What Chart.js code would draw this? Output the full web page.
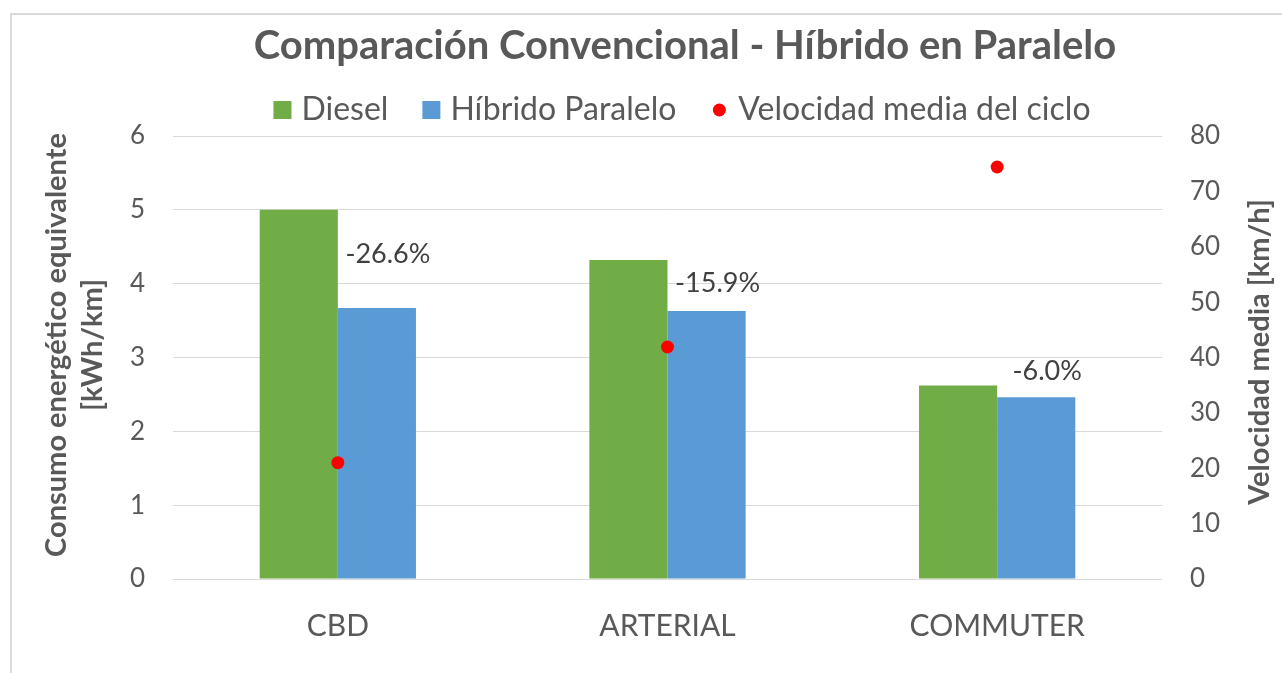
<!DOCTYPE html>
<html>
<head>
<meta charset="utf-8">
<script src="https://cdn.jsdelivr.net/npm/chart.js@4.4.0/dist/chart.umd.min.js"></script>
<style>
  body { margin: 0; background: #fff; }
  #wrap { position: relative; width: 1282px; height: 673px; overflow: hidden; }
  #marco { position: absolute; left: 10px; top: 13px; width: 1400px; height: 800px;
           border-left: 2px solid #d9d9d9; border-top: 2px solid #d9d9d9; }
  canvas { position: absolute; left: 0; top: 0; }
</style>
</head>
<body>
<div id="wrap">
  <div id="marco"></div>
  <canvas id="grafico" width="1282" height="673"></canvas>
</div>
<script>
const tituloGrafico = 'Comparación Convencional - Híbrido en Paralelo';
const categorias = ['CBD', 'ARTERIAL', 'COMMUTER'];
const consumoDiesel = [5.0, 4.32, 2.62];
const consumoHibrido = [3.67, 3.63, 2.46];
const velocidadMedia = [21.0, 41.9, 74.4];
const etiquetasAhorro = ['-26.6%', '-15.9%', '-6.0%'];
// altura de cada etiqueta, en kWh/km (eje izquierdo)
const alturaEtiquetas = [4.40, 4.0, 2.815];
const tituloEjeIzq = ['Consumo energético equivalente', '[kWh/km]'];
const tituloEjeDer = 'Velocidad media [km/h]';

const FUENTE = 'Lato';
const GRIS = '#595959';

// titulo, leyenda, titulos de ejes y etiquetas de porcentaje
const decoracion = {
  id: 'decoracion',
  afterDraw(chart) {
    const { ctx, scales } = chart;
    ctx.save();

    ctx.fillStyle = GRIS;
    ctx.textAlign = 'center';
    ctx.textBaseline = 'middle';
    ctx.font = 'bold 40px ' + FUENTE;
    ctx.fillText(tituloGrafico, 685, 46);

    // leyenda
    ctx.font = '32px ' + FUENTE;
    const items = chart.data.datasets.map(ds => ({
      texto: ds.label,
      color: ds.type === 'line' ? ds.pointBackgroundColor : ds.backgroundColor,
      punto: ds.type === 'line',
      ancho: ctx.measureText(ds.label).width
    }));
    const caja = 18, sep = 10, hueco = 34;
    let total = 0;
    items.forEach((it, i) => { total += caja + sep + it.ancho + (i ? hueco : 0); });
    let x = 682 - total / 2;
    const yLeyenda = 110;
    items.forEach(it => {
      ctx.fillStyle = it.color;
      if (it.punto) {
        ctx.beginPath();
        ctx.arc(x + caja / 2, yLeyenda, 6.5, 0, Math.PI * 2);
        ctx.fill();
      } else {
        ctx.fillRect(x, yLeyenda - caja / 2, caja, caja);
      }
      ctx.fillStyle = GRIS;
      ctx.textAlign = 'left';
      ctx.fillText(it.texto, x + caja + sep, yLeyenda);
      x += caja + sep + it.ancho + hueco;
    });

    // titulos de ejes
    ctx.font = 'bold 29px ' + FUENTE;
    ctx.textAlign = 'center';
    ctx.save();
    ctx.translate(57, 345);
    ctx.rotate(-Math.PI / 2);
    tituloEjeIzq.forEach((t, i) => ctx.fillText(t, 0, i * 36));
    ctx.restore();
    ctx.save();
    ctx.translate(1260, 352);
    ctx.rotate(-Math.PI / 2);
    ctx.fillText(tituloEjeDer, 0, 0);
    ctx.restore();

    // etiquetas de ahorro sobre la barra hibrida
    ctx.font = '27px ' + FUENTE;
    ctx.fillStyle = '#404040';
    const meta = chart.getDatasetMeta(1);
    etiquetasAhorro.forEach((t, i) => {
      const barra = meta.data[i];
      ctx.fillText(t, barra.x + 11, scales.y.getPixelForValue(alturaEtiquetas[i]));
    });

    ctx.restore();
  }
};

function dibujar() {
  const ctx = document.getElementById('grafico').getContext('2d');
  new Chart(ctx, {
    type: 'bar',
    data: {
      labels: categorias,
      datasets: [
        { label: 'Diesel', data: consumoDiesel, backgroundColor: '#70AD47', yAxisID: 'y', order: 2 },
        { label: 'Híbrido Paralelo', data: consumoHibrido, backgroundColor: '#5B9BD5', yAxisID: 'y', order: 2 },
        {
          type: 'line', label: 'Velocidad media del ciclo', data: velocidadMedia, yAxisID: 'y2',
          showLine: false, pointRadius: 6.5, pointBackgroundColor: '#FF0000',
          pointBorderWidth: 0, borderColor: '#FF0000', order: 1
        }
      ]
    },
    options: {
      responsive: false,
      animation: false,
      layout: { padding: { top: 136, left: 0, right: 0, bottom: 0 } },
      datasets: { bar: { categoryPercentage: 0.474, barPercentage: 1 } },
      plugins: {
        legend: { display: false },
        title: { display: false },
        tooltip: { enabled: false }
      },
      scales: {
        x: {
          grid: { display: false, drawTicks: false },
          border: { display: false },
          ticks: { color: GRIS, font: { family: FUENTE, size: 30 }, padding: 29 },
          afterFit: s => { s.height = 94; }
        },
        y: {
          position: 'left', min: 0, max: 6,
          grid: { color: '#d9d9d9', lineWidth: 1, drawTicks: false },
          border: { display: false },
          ticks: { stepSize: 1, color: GRIS, font: { family: FUENTE, size: 26 }, padding: 28 },
          afterFit: s => { s.width = 173; }
        },
        y2: {
          position: 'right', min: 0, max: 80,
          grid: { display: false, drawTicks: false },
          border: { display: false },
          ticks: { stepSize: 10, color: GRIS, font: { family: FUENTE, size: 26 }, padding: 28 },
          afterFit: s => { s.width = 120; }
        }
      }
    },
    plugins: [decoracion]
  });
}

Promise.all([
  document.fonts.load('26px ' + FUENTE),
  document.fonts.load('bold 26px ' + FUENTE)
]).then(dibujar, dibujar);
</script>
</body>
</html>
